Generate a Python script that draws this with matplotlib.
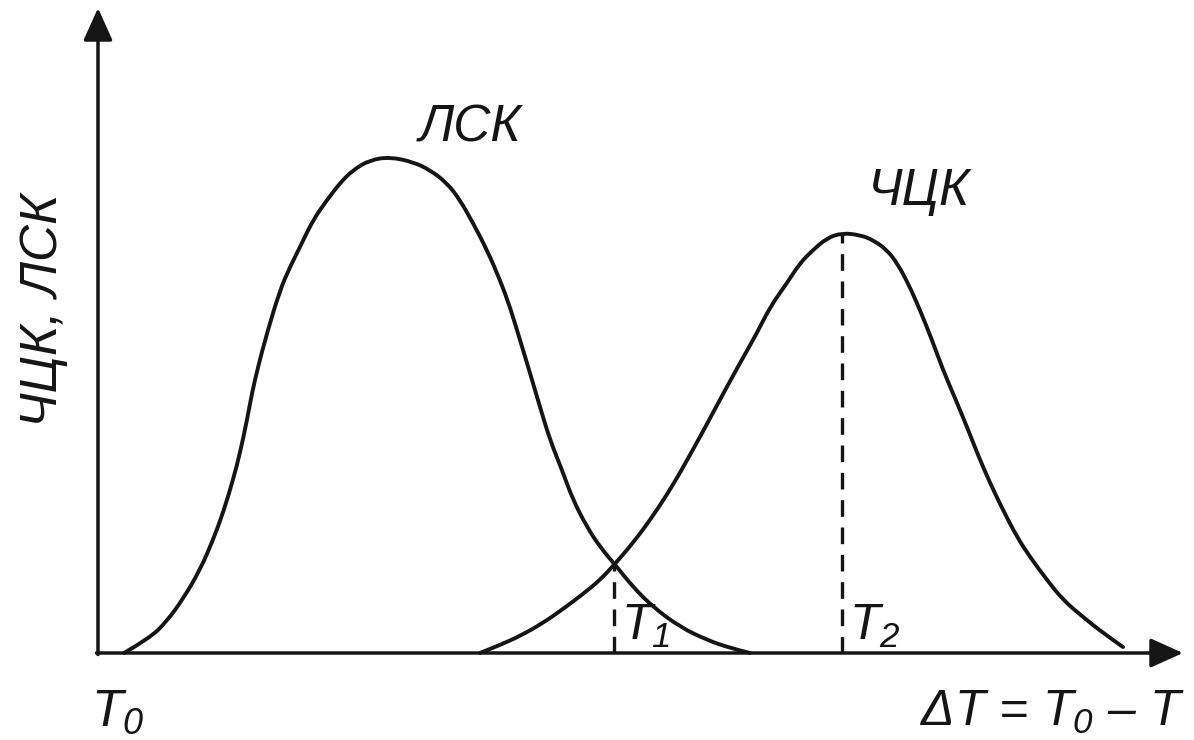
import matplotlib
matplotlib.use("Agg")
import matplotlib.pyplot as plt
from matplotlib.path import Path
from matplotlib.patches import PathPatch

plt.rcParams["font.family"] = ["Liberation Sans", "DejaVu Sans"]
plt.rcParams["mathtext.fontset"] = "custom"
plt.rcParams["mathtext.rm"] = "Liberation Sans:italic"
plt.rcParams["mathtext.it"] = "Liberation Sans:italic"

# ЛСК curve (x = ΔT, y = signal, arbitrary units)
lsk_x = [26, 52, 69, 85, 102, 115, 125, 135, 142, 149, 154, 160, 169, 182,
         192, 202, 215, 229, 242, 255, 272, 292, 315, 332, 349, 362, 375,
         389, 402, 412, 422, 432, 442, 452, 464, 475, 489, 502, 519, 535,
         555, 582, 609, 632, 652]
lsk_y = [0, 15, 32, 54, 83, 113, 140, 173, 200, 233, 260, 286, 320, 363,
         386, 406, 433, 453, 470, 483, 493, 496, 491, 483, 470, 453, 430,
         403, 373, 346, 313, 280, 246, 213, 183, 153, 126, 106, 86, 66,
         46, 26, 13, 5, 0]

# ЧЦК curve
chck_x = [382, 402, 422, 445, 465, 485, 502, 516, 535, 555, 575, 592, 609,
          625, 642, 659, 672, 689, 702, 715, 729, 744, 762, 775, 789, 799,
          810, 822, 834, 845, 857, 869, 880, 892, 905, 919, 932, 949, 965,
          985, 1005, 1025]
chck_y = [0, 8, 17, 30, 44, 59, 73, 88, 110, 137, 168, 198, 229, 259, 290,
          320, 346, 370, 390, 403, 415, 420, 418, 413, 403, 390, 370, 343,
          313, 283, 255, 226, 198, 170, 143, 116, 96, 73, 53, 36, 20, 6]

# characteristic temperatures: crossing point T1 and ЧЦК peak T2
t_marks_x = [516, 744]
t_marks_y = [88, 420]
t_labels = [r"$T_1$", r"$T_2$"]

x_end = 1085
y_end = 645

ink = "#151515"


def smooth_path(xs, ys):
    # quadratic bezier through the midpoints, read points act as controls
    pts = list(zip(xs, ys))
    verts = [pts[0]]
    codes = [Path.MOVETO]
    for i in range(1, len(pts) - 1):
        mid = ((pts[i][0] + pts[i + 1][0]) / 2, (pts[i][1] + pts[i + 1][1]) / 2)
        if i == len(pts) - 2:
            mid = pts[-1]
        verts += [pts[i], mid]
        codes += [Path.CURVE3, Path.CURVE3]
    return Path(verts, codes)


fig = plt.figure(figsize=(11.94, 7.40), dpi=100)
ax = fig.add_axes([0, 0, 1, 1])
ax.set_xlim(-98, 1096)
ax.set_ylim(-87, 653)
ax.axis("off")

# axes with arrows
arrow = dict(arrowstyle="-|>,head_length=1.0,head_width=0.45", lw=2.5,
             color=ink, mutation_scale=20, shrinkA=0, shrinkB=0)
ax.annotate("", xy=(x_end, 0), xytext=(-1.5, 0), arrowprops=arrow)
ax.annotate("", xy=(0, y_end), xytext=(0, -1.5), arrowprops=arrow)

for xs, ys in [(lsk_x, lsk_y), (chck_x, chck_y)]:
    ax.add_patch(PathPatch(smooth_path(xs, ys), facecolor="none",
                           edgecolor=ink, lw=2.8, capstyle="round",
                           joinstyle="round"))

for x, y, lab in zip(t_marks_x, t_marks_y, t_labels):
    ax.plot([x, x], [0, y], color=ink, lw=2.4, linestyle=(0, (5, 3.2)))
    ax.text(x + 7, 13, lab, fontsize=36, color=ink, ha="left", va="baseline")

ax.text(372, 511, "ЛСК", fontsize=37, style="italic", color=ink,
        ha="center", va="baseline")
ax.text(821, 448, "ЧЦК", fontsize=37, style="italic", color=ink,
        ha="center", va="baseline")
ax.text(-55, 343, "ЧЦК, ЛСК", fontsize=37, style="italic", color=ink,
        rotation=90, ha="center", va="center")

ax.text(-7, -73, r"$T_0$", fontsize=37, color=ink,
        ha="left", va="baseline")
ax.text(1087, -73, r"$\Delta T$ = $T_0$ – $T$", fontsize=36, style="italic",
        color=ink, ha="right", va="baseline")

fig.savefig("out.png", dpi=100, facecolor="white")
